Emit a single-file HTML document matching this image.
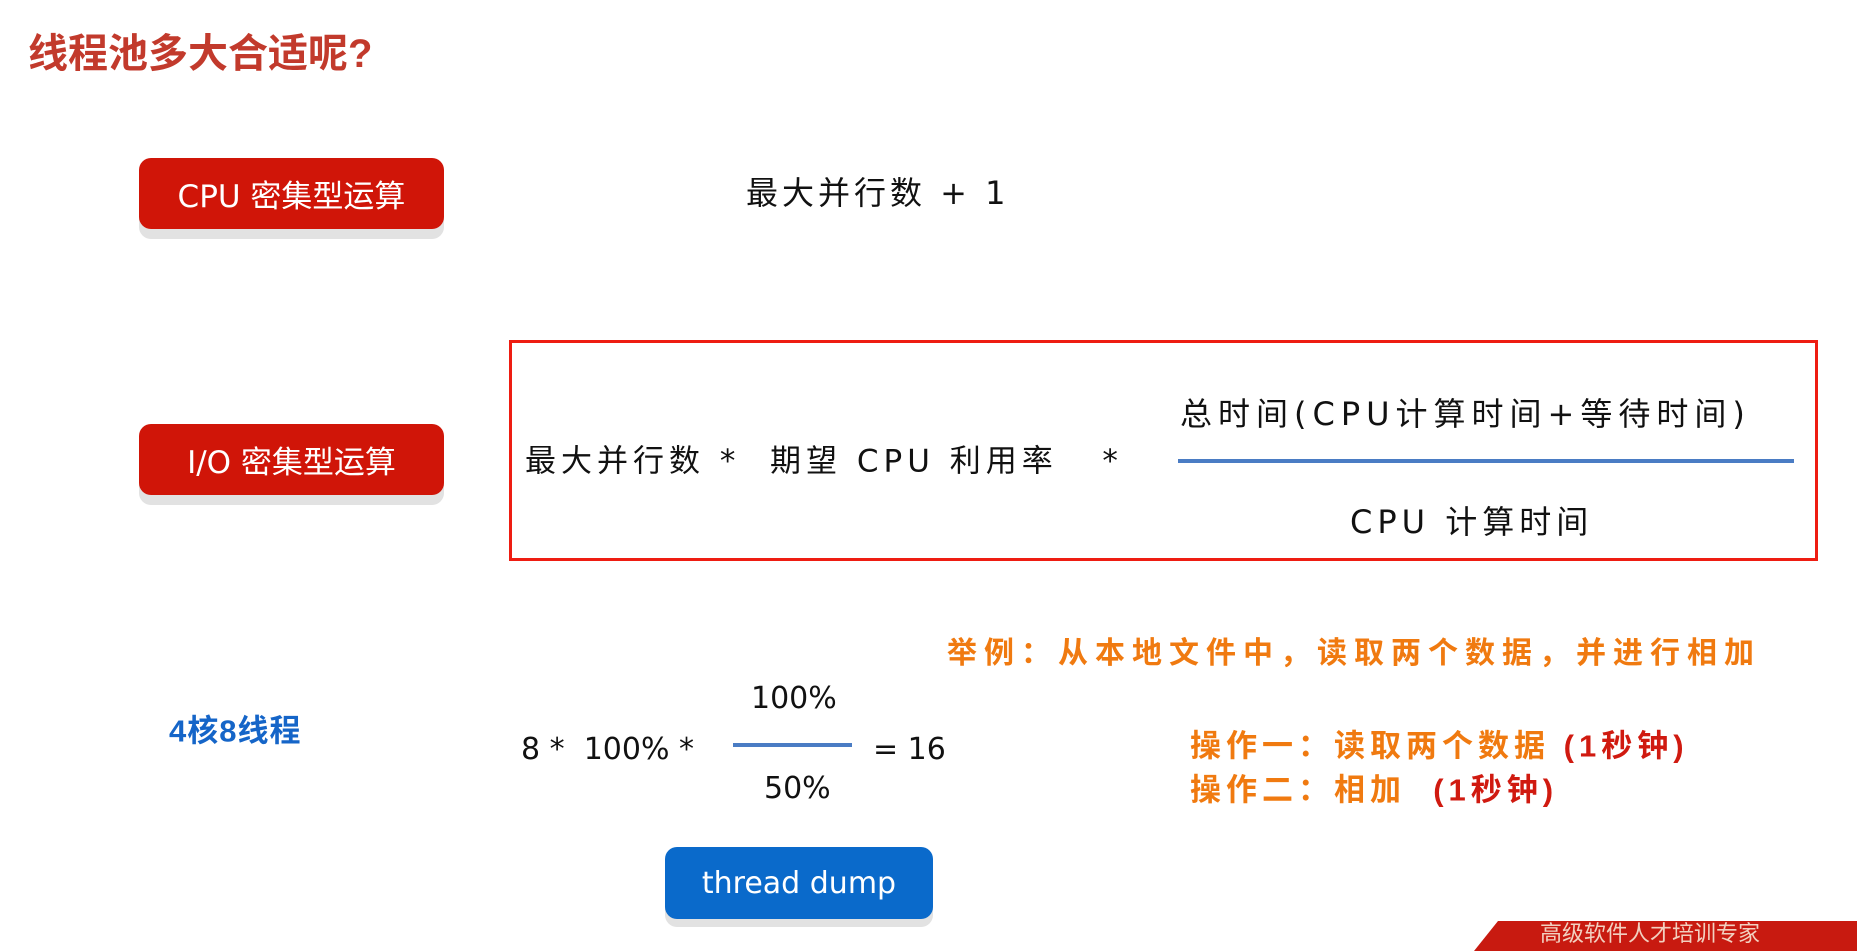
<!DOCTYPE html>
<html><head><meta charset="utf-8"><style>
body{margin:0;width:1857px;height:946px;background:#fff;position:relative;overflow:hidden;font-family:"Liberation Sans","Noto Sans CJK SC",sans-serif}
.t{position:absolute;white-space:nowrap;line-height:1;transform:translateY(-50%)}
.btn{position:absolute;border-radius:12px;color:#fff;display:flex;align-items:center;justify-content:center;font-family:"DejaVu Sans","Noto Sans CJK SC",sans-serif}
.red{background:#d01508;box-shadow:0 10px 0 #e2e2e2;font-size:31px}
.hl{position:absolute;background:#4a7cc4;height:4px}
.k{color:#111;font-family:"DejaVu Sans","Noto Sans CJK SC",sans-serif;font-weight:normal}
</style></head><body>
<div class="t" style="left:28px;top:54px;font-size:40px;color:#c23a2c;font-weight:bold">线程池多大合适呢?</div>

<div class="btn red" style="left:139px;top:158px;width:305px;height:71px">CPU 密集型运算</div>
<div class="btn red" style="left:139px;top:424px;width:305px;height:71px">I/O 密集型运算</div>

<div class="t k" style="left:746px;top:193px;font-size:32px;letter-spacing:4px">最大并行数 + 1</div>

<div style="position:absolute;left:509px;top:340px;width:1303px;height:215px;border:3px solid #ee1d12"></div>
<div class="t k" style="left:525px;top:462px;font-size:31px;letter-spacing:5px">最大并行数 *&nbsp; 期望 CPU 利用率&nbsp;&nbsp; *</div>
<div class="t k" style="left:1180px;top:414px;font-size:32px;letter-spacing:6px">总时间(CPU计算时间+等待时间)</div>
<div class="hl" style="left:1178px;top:459px;width:616px"></div>
<div class="t k" style="left:1350px;top:522px;font-size:32px;letter-spacing:5px">CPU 计算时间</div>

<div class="t" style="left:947px;top:654px;font-size:30px;color:#f07a10;font-weight:bold;letter-spacing:7px">举例：从本地文件中，读取两个数据，并进行相加</div>

<div class="t" style="left:169px;top:731px;font-size:31px;color:#1565c8;font-weight:bold;letter-spacing:1px">4核8线程</div>

<div class="t k" style="left:521px;top:750px;font-size:30px">8 *&nbsp; 100% *</div>
<div class="t k" style="left:751px;top:699px;font-size:30px">100%</div>
<div class="hl" style="left:733px;top:743px;width:119px"></div>
<div class="t k" style="left:764px;top:789px;font-size:30px">50%</div>
<div class="t k" style="left:873px;top:750px;font-size:30px">= 16</div>

<div class="t" style="left:1190px;top:746px;font-size:31px;color:#f07a10;font-weight:bold;letter-spacing:5px">操作一：读取两个数据 <span style="color:#d01a10">(1秒钟)</span></div>
<div class="t" style="left:1190px;top:790px;font-size:31px;color:#f07a10;font-weight:bold;letter-spacing:5px">操作二：相加 &nbsp;<span style="color:#d01a10">(1秒钟)</span></div>

<div class="btn" style="left:665px;top:847px;width:268px;height:72px;background:#0a6acb;box-shadow:0 8px 0 #e2e2e2;font-size:30px">thread dump</div>

<div style="position:absolute;left:1474px;top:921px;width:400px;height:30px;background:#c81a10;clip-path:polygon(6% 0,100% 0,100% 100%,0 100%)"></div>
<div class="t" style="left:1540px;top:934px;font-size:22px;color:#f2d0c0">高级软件人才培训专家</div>
</body></html>
